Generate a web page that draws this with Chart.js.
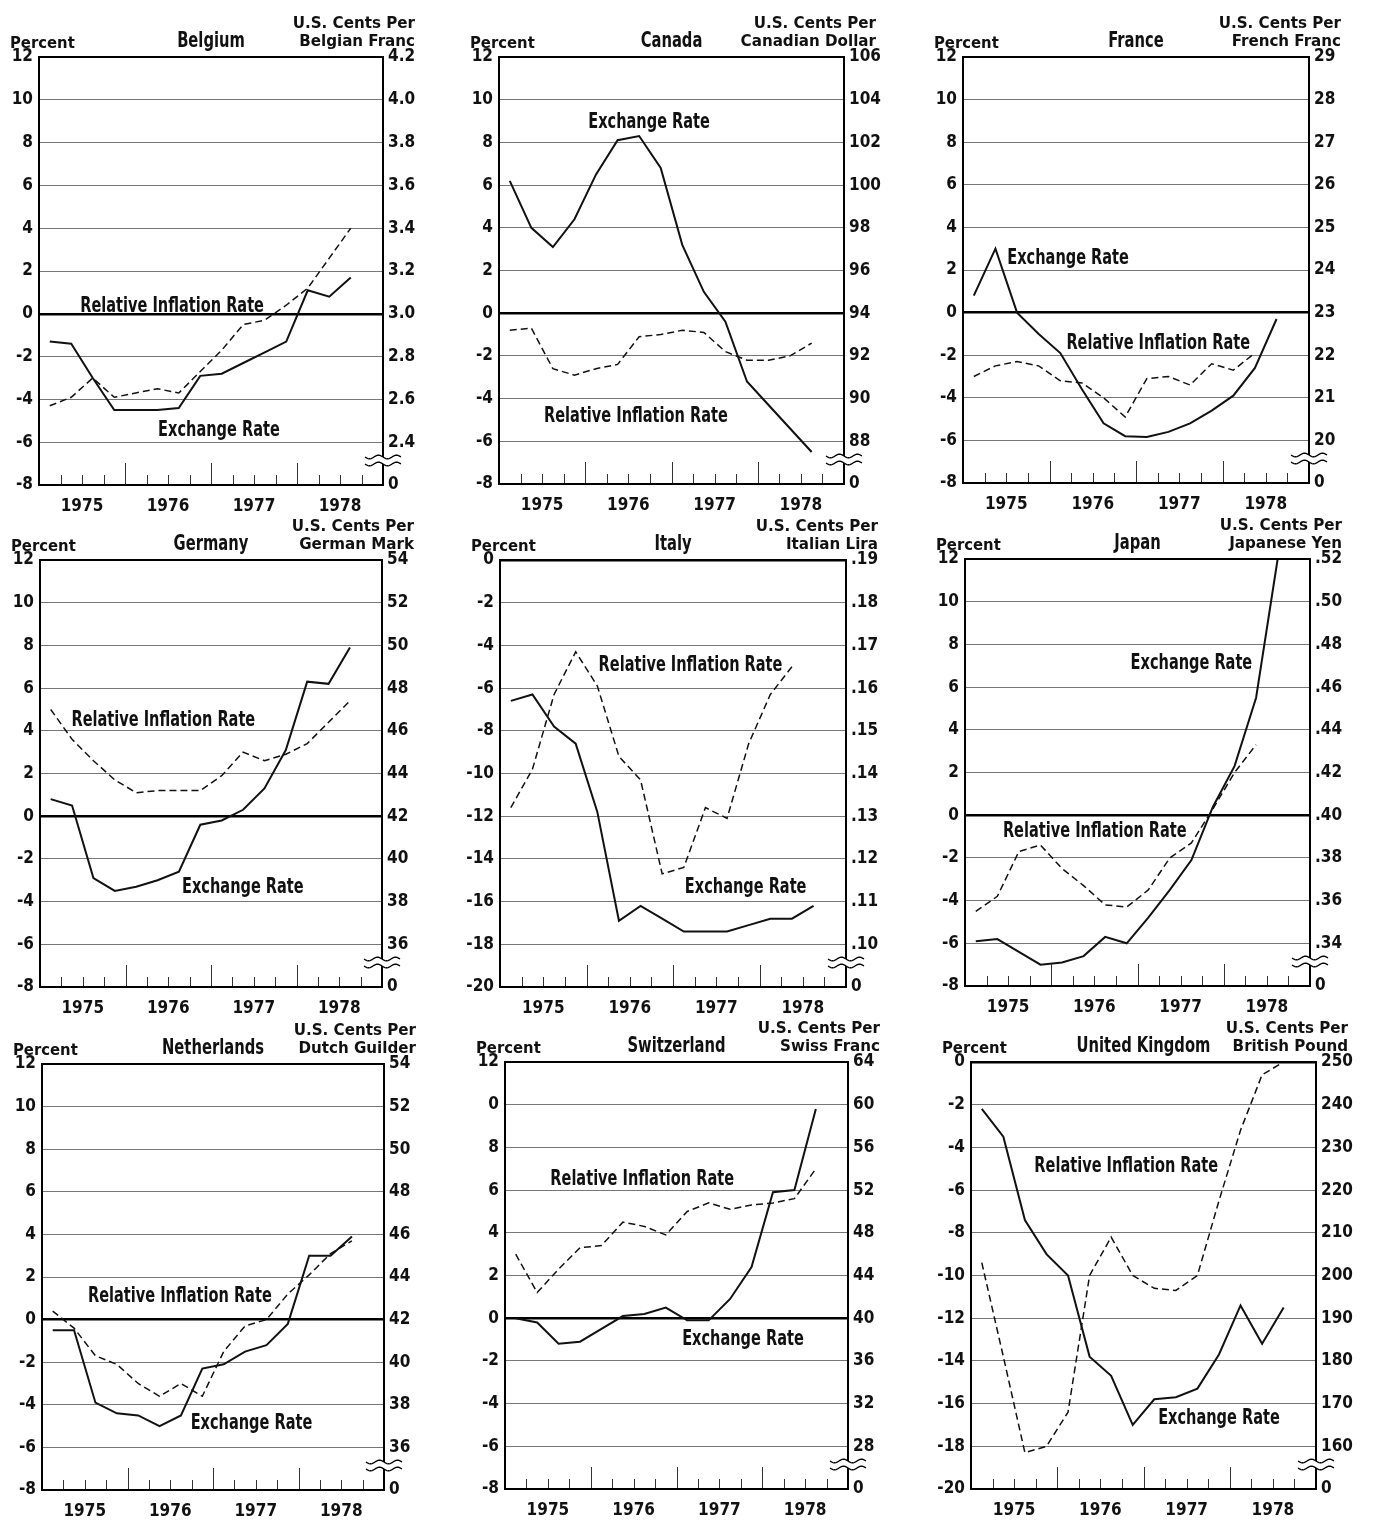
<!DOCTYPE html>
<html><head><meta charset="utf-8">
<script src="https://cdn.jsdelivr.net/npm/chart.js@4/dist/chart.umd.min.js"></script>
<style>
html,body{margin:0;padding:0;background:#fff;}
#wrap{position:relative;width:1374px;height:1520px;overflow:hidden;background:#fff;}
canvas{position:absolute;}
</style></head><body><div id="wrap"></div>
<script>
// ---------- DATA ----------
const quarters = ['1975 Q1','1975 Q2','1975 Q3','1975 Q4','1976 Q1','1976 Q2','1976 Q3','1976 Q4',
                  '1977 Q1','1977 Q2','1977 Q3','1977 Q4','1978 Q1','1978 Q2','1978 Q3'];
const yearLabels = ['1975','1976','1977','1978'];

const percentTicksA = [-8,-6,-4,-2,0,2,4,6,8,10,12];
const percentLabelsA = ['-8','-6','-4','-2','0','2','4','6','8','10','12'];
const percentLabelsSwiss = ['-8','-6','-4','-2','0','2','4','6','8','0','12'];
const percentTicksB = [-20,-18,-16,-14,-12,-10,-8,-6,-4,-2,0];
const percentLabelsB = ['-20','-18','-16','-14','-12','-10','-8','-6','-4','-2','0'];

const belgiumCentsLabels = ['0','2.4','2.6','2.8','3.0','3.2','3.4','3.6','3.8','4.0','4.2'];
const canadaCentsLabels = ['0','88','90','92','94','96','98','100','102','104','106'];
const franceCentsLabels = ['0','20','21','22','23','24','25','26','27','28','29'];
const germanyCentsLabels = ['0','36','38','40','42','44','46','48','50','52','54'];
const italyCentsLabels = ['0','.10','.11','.12','.13','.14','.15','.16','.17','.18','.19'];
const japanCentsLabels = ['0','.34','.36','.38','.40','.42','.44','.46','.48','.50','.52'];
const netherlandsCentsLabels = ['0','36','38','40','42','44','46','48','50','52','54'];
const swissCentsLabels = ['0','28','32','36','40','44','48','52','56','60','64'];
const ukCentsLabels = ['0','160','170','180','190','200','210','220','230','240','250'];

// Exchange rates (U.S. cents per unit of currency), quarterly
const belgiumExchange = [2.87,2.86,2.70,2.55,2.55,2.55,2.56,2.71,2.72,2.77,2.82,2.87,3.11,3.08,3.17];
const canadaExchange = [100.2,98.0,97.1,98.4,100.5,102.1,102.3,100.8,97.2,95.0,93.6,90.8,89.7,88.6,87.5];
const franceExchange = [23.4,24.5,23.0,22.5,22.05,21.2,20.4,20.1,20.08,20.2,20.4,20.7,21.05,21.7,22.85];
const germanyExchange = [42.8,42.5,39.1,38.5,38.7,39.0,39.4,41.6,41.8,42.3,43.3,45.1,48.3,48.2,49.9];
const italyExchange = [0.157,0.1585,0.151,0.147,0.131,0.1055,0.109,0.106,0.103,0.103,0.103,0.1045,0.106,0.106,0.109];
const japanExchange = [0.341,0.342,0.336,0.330,0.331,0.334,0.343,0.340,0.352,0.365,0.379,0.404,0.423,0.455,0.520];
const netherlandsExchange = [41.5,41.5,38.1,37.6,37.5,37.0,37.5,39.7,39.9,40.5,40.8,41.8,45.0,45.0,45.9];
const swissExchange = [40.0,39.6,37.6,37.8,39.0,40.2,40.4,41.0,39.8,39.8,41.8,44.8,51.8,52.0,59.6];
const ukExchange = [239,232.5,213,205,200,181,176.5,165,171,171.5,173.5,181.5,193,184,192.5];

// Relative inflation rates (percent), quarterly
const belgiumInflation = [-4.3,-3.9,-3.0,-3.9,-3.7,-3.5,-3.7,-2.7,-1.7,-0.5,-0.3,0.4,1.2,2.6,4.0];
const canadaInflation = [-0.8,-0.7,-2.6,-2.9,-2.6,-2.4,-1.1,-1.0,-0.8,-0.9,-1.8,-2.2,-2.2,-2.0,-1.4];
const franceInflation = [-3.0,-2.5,-2.3,-2.5,-3.2,-3.3,-4.0,-4.9,-3.1,-3.0,-3.4,-2.4,-2.7,-1.9,null];
const germanyInflation = [5.0,3.6,2.6,1.7,1.1,1.2,1.2,1.2,1.9,3.0,2.6,2.9,3.4,4.4,5.4];
const italyInflation = [-11.6,-9.8,-6.3,-4.3,-5.9,-9.2,-10.3,-14.7,-14.4,-11.6,-12.1,-8.6,-6.3,-5.0,null];
const japanInflation = [-4.5,-3.8,-1.7,-1.4,-2.5,-3.3,-4.2,-4.3,-3.5,-2.0,-1.3,0.3,2.0,3.3,null];
const netherlandsInflation = [0.4,-0.4,-1.7,-2.1,-3.0,-3.6,-3.0,-3.6,-1.5,-0.3,0.0,1.2,2.1,3.1,3.7];
const swissInflation = [3.0,1.2,2.3,3.3,3.4,4.5,4.3,3.9,5.0,5.4,5.1,5.3,5.4,5.6,7.0];
const ukInflation = [-9.4,-13.8,-18.3,-18.0,-16.4,-10.0,-8.2,-10.0,-10.6,-10.7,-10.0,-6.5,-3.2,-0.6,0.0];

// ---------- PANELS ----------
const panels = [
 {title:'Belgium', unit:'Belgian Franc', ex:belgiumExchange, inf:belgiumInflation, pt:percentTicksA, pl:percentLabelsA, cl:belgiumCentsLabels, cTop:4.2, k:0.1, box:[39,57,383,485], exPos:[8.37,-5.33], infPos:[6.19,0.48]},
 {title:'Canada', unit:'Canadian Dollar', ex:canadaExchange, inf:canadaInflation, pt:percentTicksA, pl:percentLabelsA, cl:canadaCentsLabels, cTop:106, k:1, box:[499,57,844,484], exPos:[6.96,9.05], infPos:[6.35,-4.72]},
 {title:'France', unit:'French Franc', ex:franceExchange, inf:franceInflation, pt:percentTicksA, pl:percentLabelsA, cl:franceCentsLabels, cTop:29, k:0.5, box:[963,57,1309,483], exPos:[4.86,2.68], infPos:[9.03,-1.35]},
 {title:'Germany', unit:'German Mark', ex:germanyExchange, inf:germanyInflation, pt:percentTicksA, pl:percentLabelsA, cl:germanyCentsLabels, cTop:54, k:1, box:[40,560,382,987], exPos:[9.49,-3.22], infPos:[5.77,4.6]},
 {title:'Italy', unit:'Italian Lira', ex:italyExchange, inf:italyInflation, pt:percentTicksB, pl:percentLabelsB, cl:italyCentsLabels, cTop:0.19, k:0.005, box:[500,560,846,987], exPos:[11.36,-15.2], infPos:[8.81,-4.82]},
 {title:'Japan', unit:'Japanese Yen', ex:japanExchange, inf:japanInflation, pt:percentTicksA, pl:percentLabelsA, cl:japanCentsLabels, cTop:0.52, k:0.01, box:[965,559,1310,986], exPos:[10.5,7.22], infPos:[6.02,-0.65]},
 {title:'Netherlands', unit:'Dutch Guilder', ex:netherlandsExchange, inf:netherlandsInflation, pt:percentTicksA, pl:percentLabelsA, cl:netherlandsCentsLabels, cTop:54, k:1, box:[42,1064,384,1490], exPos:[9.8,-4.77], infPos:[6.45,1.18]},
 {title:'Switzerland', unit:'Swiss Franc', ex:swissExchange, inf:swissInflation, pt:percentTicksA, pl:percentLabelsSwiss, cl:swissCentsLabels, cTop:64, k:2, box:[505,1062,848,1489], exPos:[11.1,-0.9], infPos:[6.4,6.6]},
 {title:'United Kingdom', unit:'British Pound', ex:ukExchange, inf:ukInflation, pt:percentTicksB, pl:percentLabelsB, cl:ukCentsLabels, cTop:250, k:5, box:[971,1062,1316,1489], exPos:[11.5,-16.6], infPos:[7.2,-4.8]}
];

// ---------- RENDER ----------
const FONT = "'DejaVu Sans Condensed', 'DejaVu Sans', sans-serif";
Chart.defaults.font.family = FONT;
Chart.defaults.font.weight = 'bold';
Chart.defaults.color = '#111';

const YL = 40, YR = 44, PT = 62, XB = 34;

function squeezeText(ctx, text, x, y, align, font, sx){
  ctx.save();
  ctx.font = font;
  ctx.textAlign = align;
  ctx.textBaseline = 'alphabetic';
  ctx.translate(x, y);
  ctx.scale(sx, 1);
  ctx.fillText(text, 0, 0);
  ctx.restore();
}

const decor = {
  id: 'decor',
  afterDraw(chart) {
    const p = chart.options.plugins.decor.panel;
    const {ctx, chartArea: ca, scales} = chart;
    ctx.save();
    // inside quarter / year ticks
    ctx.strokeStyle = '#333';
    ctx.lineWidth = 1;
    for (let i = 1; i < 16; i++) {
      const x = Math.round(scales.x.getPixelForValue(i)) + 0.5;
      const len = (i % 4 === 0) ? 22 : 10;
      ctx.beginPath(); ctx.moveTo(x, ca.bottom); ctx.lineTo(x, ca.bottom - len); ctx.stroke();
    }
    // frame
    ctx.strokeStyle = '#000';
    ctx.lineWidth = 2;
    ctx.strokeRect(ca.left, ca.top, ca.right - ca.left, ca.bottom - ca.top);
    // axis break symbol on right axis
    const yb = ca.bottom;
    ctx.fillStyle = '#fff';
    ctx.fillRect(ca.right - 3, yb - 28, 7, 7);
    ctx.lineWidth = 1.3;
    [yb - 28, yb - 21].forEach(yy => {
      ctx.beginPath();
      for (let t = 0; t <= 36; t++) {
        const x = ca.right - 18 + t;
        const y = yy + 1.8 * Math.sin(t / 36 * Math.PI * 4);
        if (t === 0) ctx.moveTo(x, y); else ctx.lineTo(x, y);
      }
      ctx.stroke();
    });
    // headers
    ctx.fillStyle = '#111';
    squeezeText(ctx, 'Percent', ca.left - 29, ca.top - 9, 'left', 'bold 16px ' + FONT, 1.03);
    squeezeText(ctx, p.title, (ca.left + ca.right) / 2, ca.top - 10, 'center', 'bold 21px ' + FONT, 0.78);
    squeezeText(ctx, 'U.S. Cents Per', ca.right + 32, ca.top - 29, 'right', 'bold 16px ' + FONT, 1.05);
    squeezeText(ctx, p.unit, ca.right + 32, ca.top - 11, 'right', 'bold 16px ' + FONT, 1.05);
    // series labels
    const lf = 'bold 21px ' + FONT;
    const ex = p.exPos, inf = p.infPos;
    squeezeText(ctx, 'Exchange Rate', scales.x.getPixelForValue(ex[0]), scales.y.getPixelForValue(ex[1]) + 8, 'center', lf, 0.77);
    squeezeText(ctx, 'Relative Inflation Rate', scales.x.getPixelForValue(inf[0]), scales.y.getPixelForValue(inf[1]) + 8, 'center', lf, 0.77);
    ctx.restore();
  }
};

const wrap = document.getElementById('wrap');
panels.forEach(p => {
  const [L, T, R, B] = p.box;
  const w = (R - L) + YL + YR, h = (B - T) + PT + XB;
  const c = document.createElement('canvas');
  c.width = w; c.height = h;
  c.style.left = (L - YL) + 'px'; c.style.top = (T - PT) + 'px';
  c.style.width = w + 'px'; c.style.height = h + 'px';
  wrap.appendChild(c);
  const pMin = p.pt[0], pMax = p.pt[p.pt.length - 1];
  const toC = v => p.cTop - (pMax - v) * p.k;
  new Chart(c, {
    type: 'line',
    data: {
      labels: quarters,
      datasets: [
        {label: 'Exchange Rate', yAxisID: 'y2',
         data: p.ex.map((v, i) => ({x: i + 0.5, y: v})),
         borderColor: '#111', borderWidth: 2, pointRadius: 0, tension: 0, fill: false},
        {label: 'Relative Inflation Rate', yAxisID: 'y',
         data: p.inf.map((v, i) => ({x: i + 0.5, y: v})),
         borderColor: '#111', borderWidth: 1.5, borderDash: [7, 4], pointRadius: 0, tension: 0, fill: false, spanGaps: false}
      ]
    },
    options: {
      responsive: false, animation: false,
      layout: {padding: {top: PT, left: 0, right: 0, bottom: 0}},
      plugins: {legend: {display: false}, tooltip: {enabled: false}, title: {display: false}, decor: {panel: p}},
      scales: {
        x: {type: 'linear', min: 0, max: 16,
            afterBuildTicks: s => { s.ticks = [2, 6, 10, 14].map(v => ({value: v})); },
            afterFit: s => { s.height = XB; },
            ticks: {autoSkip: false, maxRotation: 0, padding: 11, font: {size: 17, weight: 'bold'},
                    callback: (v, i) => yearLabels[i]},
            grid: {display: false, drawTicks: false}, border: {display: false}},
        y: {type: 'linear', position: 'left', min: pMin, max: pMax,
            afterBuildTicks: s => { s.ticks = p.pt.map(v => ({value: v})); },
            afterFit: s => { s.width = YL; },
            ticks: {padding: 6, font: {size: 17, weight: 'bold'}, callback: (v, i) => p.pl[i]},
            grid: {drawTicks: false,
                   color: c2 => (c2.tick && c2.tick.value === 0) ? '#000' : '#777',
                   lineWidth: c2 => (c2.tick && c2.tick.value === 0) ? 2.5 : 1},
            border: {display: false}},
        y2: {type: 'linear', position: 'right', min: toC(pMin), max: toC(pMax),
             afterBuildTicks: s => { s.ticks = p.pt.map(v => ({value: toC(v)})); },
             afterFit: s => { s.width = YR; },
             ticks: {padding: 5, font: {size: 17, weight: 'bold'}, callback: (v, i) => p.cl[i]},
             grid: {display: false, drawTicks: false}, border: {display: false}}
      }
    },
    plugins: [decor]
  });
});
</script></body></html>
